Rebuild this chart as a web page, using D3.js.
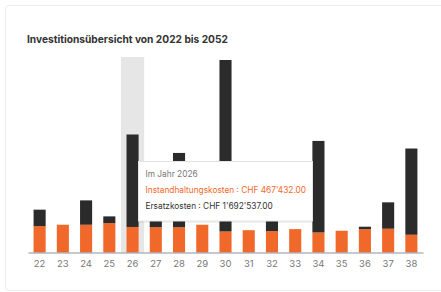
<!DOCTYPE html>
<html>
<head>
<meta charset="utf-8">
<script src="https://cdn.jsdelivr.net/npm/d3@7"></script>
<style>
    body { margin: 0; background: #fff; font-family: Inter, "Open Sans", sans-serif; }
    svg { display: block; }
</style>
</head>
<body>
<svg id="chart" width="441" height="292"></svg>
<script>
const years = ["22", "23", "24", "25", "26", "27", "28", "29", "30", "31", "32", "33", "34", "35", "36", "37", "38"];
const instandhaltung = [483000, 508000, 508000, 538000, 467432, 464000, 464000, 508000, 385000, 409000, 391000, 428000, 367000, 398000, 428000, 435000, 325000];
const ersatz = [301000, 0, 446000, 123000, 1692537, 673000, 1358000, 0, 3138000, 0, 563000, 0, 1675000, 0, 44000, 483000, 1578000];
const activeYear = "26";
const yMax = 3578000;

const colors = {orange: "#f1692a", dark: "#2b2b2b", shadow: "#e6e6e6"};

const svg = d3.select("#chart");

// card frame
svg.append("rect")
    .attr("x", 5.5).attr("y", 5.5)
    .attr("width", 450).attr("height", 285)
    .attr("rx", 3)
    .attr("fill", "#fff")
    .attr("stroke", "#ececec");

svg.append("text")
    .attr("x", 27).attr("y", 43)
    .attr("font-size", 10.2)
    .attr("font-weight", 700)
    .attr("fill", "#333")
    .text("Investitionsübersicht von 2022 bis 2052");

const x = d3.scaleBand()
    .domain(years)
    .range([28, 423])
    .paddingInner(0.48)
    .paddingOuter(0.24);

const band = d3.scaleBand().domain(years).range([28, 423]);

const y = d3.scaleLinear()
    .domain([0, yMax])
    .range([252.5, 57]);

// hover shadow
svg.append("rect")
    .attr("x", band(activeYear))
    .attr("y", y(yMax))
    .attr("width", band.bandwidth())
    .attr("height", y(0) - y(yMax))
    .attr("fill", colors.shadow);

const stack = d3.stack().keys(["a", "b"])(
    years.map((yr, i) => ({year: yr, a: instandhaltung[i], b: ersatz[i]})));

svg.append("g")
    .selectAll("g")
    .data(stack)
    .join("g")
    .attr("fill", (d, i) => i === 0 ? colors.orange : colors.dark)
    .selectAll("rect")
    .data(d => d)
    .join("rect")
    .attr("x", d => x(d.data.year))
    .attr("y", d => y(d[1]))
    .attr("width", x.bandwidth())
    .attr("height", d => y(d[0]) - y(d[1]));

const xAxis = svg.append("g")
    .attr("transform", "translate(0," + y(0) + ")")
    .call(d3.axisBottom(band).tickSize(0).tickPadding(8));
xAxis.select(".domain").attr("stroke", "#8e8fa0");
xAxis.selectAll("text")
    .attr("font-family", "Inter, sans-serif")
    .attr("font-size", 9.5)
    .attr("fill", "#777");

// tooltip
const i = years.indexOf(activeYear);
const tip = svg.append("g").attr("transform", "translate(138.5,161.5)");
tip.append("rect")
    .attr("width", 174).attr("height", 60)
    .attr("x", 1).attr("y", 1.5)
    .attr("fill", "#000").attr("opacity", 0.06);
tip.append("rect")
    .attr("width", 174).attr("height", 59.5)
    .attr("fill", "#fff")
    .attr("stroke", "#e4e4e4");

const fmt = v => "CHF " + d3.format(",.2f")(v).replace(/,/g, "'");
const lines = [
    {text: "Im Jahr 20" + activeYear, color: "#777", y: 15.5},
    {text: "Instandhaltungskosten : " + fmt(instandhaltung[i]), color: colors.orange, y: 31},
    {text: "Ersatzkosten : " + fmt(ersatz[i]), color: "#333", y: 47.5}
];
tip.selectAll("text")
    .data(lines)
    .join("text")
    .attr("x", 7)
    .attr("y", d => d.y)
    .attr("font-size", 8.3)
    .attr("fill", d => d.color)
    .text(d => d.text);
</script>
</body>
</html>
